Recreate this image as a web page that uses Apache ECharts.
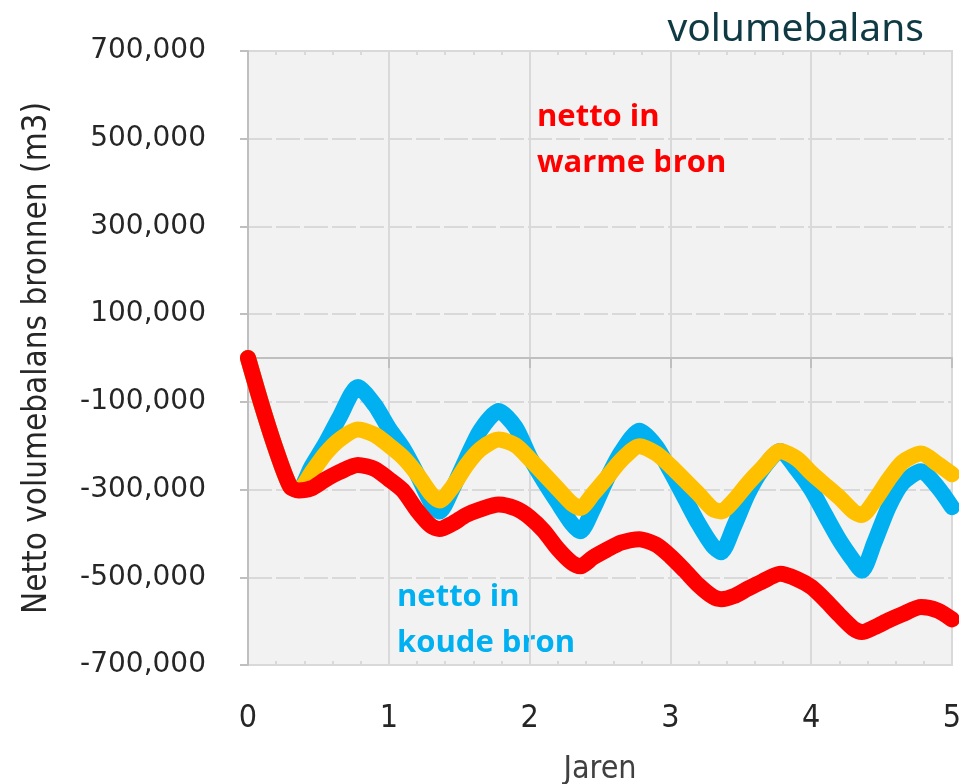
<!DOCTYPE html>
<html>
<head>
<meta charset="utf-8">
<title>volumebalans</title>
<script src="https://cdn.jsdelivr.net/npm/echarts@6/dist/echarts.min.js"></script>
<style>
  html, body { margin: 0; padding: 0; background: #ffffff; }
  #chart { width: 959px; height: 784px; }
</style>
</head>
<body>
<div id="chart"></div>
<script>
  // jaren (x) - gedeeld door de drie reeksen
  var years = [
    0, 0.1, 0.2, 0.3, 0.36, 0.45, 0.55, 0.65, 0.78, 0.9,
    1, 1.1, 1.2, 1.3, 1.36, 1.45, 1.55, 1.65, 1.78, 1.9,
    2, 2.1, 2.2, 2.3, 2.36, 2.45, 2.55, 2.65, 2.78, 2.9,
    3, 3.1, 3.2, 3.3, 3.36, 3.45, 3.55, 3.65, 3.78, 3.9,
    4, 4.1, 4.2, 4.3, 4.36, 4.45, 4.55, 4.65, 4.78, 4.9,
    5
  ];

  // netto volumebalans, x 1000 m3
  var blueValues = [
    0, -110, -210, -293, -300, -248, -195, -135, -66, -107,
    -160, -205, -264, -330, -350, -300, -230, -165, -121, -158,
    -225, -280, -330, -378, -395, -345, -275, -215, -166, -202,
    -258, -318, -378, -428, -443, -385, -310, -255, -212, -255,
    -300, -358, -415, -462, -485, -420, -340, -285, -258, -295,
    -340
  ];
  var orangeValues = [
    0, -110, -210, -293, -300, -262, -218, -186, -163, -175,
    -199, -226, -264, -310, -325, -295, -245, -208, -186, -199,
    -230, -264, -298, -332, -342, -310, -272, -233, -201, -218,
    -246, -278, -310, -344, -350, -325, -286, -252, -212, -230,
    -262, -290, -318, -350, -358, -325, -277, -237, -218, -242,
    -265
  ];
  var redValues = [
    0, -110, -210, -293, -302, -297, -277, -260, -244, -253,
    -276, -302, -347, -383, -390, -378, -358, -345, -334, -343,
    -363, -394, -435, -467, -475, -455, -437, -421, -413, -426,
    -452, -484, -518, -544, -550, -543, -526, -510, -492, -504,
    -522, -552, -586, -617, -625, -614, -598, -584, -568, -576,
    -596
  ];

  var yTicks = [-700000, -500000, -300000, -100000, 100000, 300000, 500000, 700000];

  function pairs(values) {
    return years.map(function (y, i) { return [y, values[i] * 1000]; });
  }

  function lineSeries(name, color, values, width) {
    return {
      name: name,
      type: 'line',
      xAxisIndex: 0,
      showSymbol: false,
      symbol: 'none',
      smooth: 0.25,
      lineStyle: { color: color, width: width, cap: 'round', join: 'round' },
      data: pairs(values),
      animation: false
    };
  }

  // kleine streepjes langs boven- en onderrand
  function minorAxis(pos) {
    return {
      type: 'value', min: 0, max: 5, interval: 1, position: pos,
      axisLine: { show: false, onZero: false },
      axisTick: { show: false, inside: true },
      minorTick: { show: true, splitNumber: 5, length: 4, lineStyle: { color: '#d9d9d9', width: 2 } },
      axisLabel: { show: false },
      splitLine: { show: false }
    };
  }

  var narrow = '"DejaVu Sans Condensed", "DejaVu Sans", sans-serif';

  var myChart = echarts.init(document.getElementById('chart'));
  var option = {
    backgroundColor: '#ffffff',
    animation: false,
    title: {
      text: 'volumebalans',
      right: 30,
      top: 5,
      textStyle: {
        fontFamily: '"Noto Sans", sans-serif',
        fontWeight: 'normal',
        fontSize: 39,
        color: '#0f3a44'
      }
    },
    grid: {
      left: 248,
      right: 7,
      top: 51,
      bottom: 119,
      outerBoundsMode: 'none',
      show: true,
      backgroundColor: '#f2f2f2',
      borderColor: '#d9d9d9',
      borderWidth: 2
    },
    xAxis: [{
      type: 'value',
      min: 0,
      max: 5,
      interval: 1,
      name: 'Jaren',
      nameLocation: 'middle',
      nameGap: 89,
      nameTextStyle: { fontFamily: narrow, fontSize: 32, color: '#404040' },
      axisLine: { show: false, onZero: false },
      axisTick: { show: false },
      axisLabel: { margin: 38, fontFamily: narrow, fontSize: 32, color: '#262626' },
      splitLine: { show: true, lineStyle: { color: '#d9d9d9', width: 2 } }
    }, {
      type: 'value',
      min: 0,
      max: 5,
      interval: 1,
      position: 'bottom',
      axisLine: { show: true, onZero: true, lineStyle: { color: '#bfbfbf', width: 2 } },
      axisTick: { show: true, inside: false, length: 10, lineStyle: { color: '#bfbfbf', width: 2 } },
      axisLabel: { show: false },
      splitLine: { show: false }
    }, minorAxis('top'), minorAxis('bottom')],
    yAxis: {
      type: 'value',
      min: -700000,
      max: 700000,
      interval: 200000,
      name: 'Netto volumebalans bronnen (m3)',
      nameLocation: 'middle',
      nameGap: 194,
      nameTextStyle: { fontFamily: narrow, fontSize: 33, color: '#262626' },
      axisLine: { show: true, lineStyle: { color: '#bfbfbf', width: 2 } },
      axisTick: { show: true, length: 8, lineStyle: { color: '#bfbfbf', width: 2 } },
      axisLabel: {
        margin: 42,
        fontFamily: '"DejaVu Sans", sans-serif',
        fontSize: 28,
        color: '#262626',
        formatter: function (v) {
          return yTicks.indexOf(v) >= 0 ? v.toLocaleString('en-US') : '';
        }
      },
      splitLine: { show: true, lineStyle: { color: '#d9d9d9', width: 2, type: [24, 4] } }
    },
    graphic: [{
      type: 'text',
      left: 537,
      top: 94,
      style: {
        text: 'netto in\nwarme bron',
        fill: '#ff0000',
        fontFamily: '"Open Sans", sans-serif',
        fontWeight: 'bold',
        fontSize: 31,
        lineHeight: 46
      }
    }, {
      type: 'text',
      left: 397,
      top: 574,
      style: {
        text: 'netto in\nkoude bron',
        fill: '#00b0f0',
        fontFamily: '"Open Sans", sans-serif',
        fontWeight: 'bold',
        fontSize: 31,
        lineHeight: 46
      }
    }],
    series: [
      lineSeries('netto in koude bron', '#00b0f0', blueValues, 16),
      lineSeries('gemiddeld', '#ffc000', orangeValues, 16),
      lineSeries('netto in warme bron', '#ff0000', redValues, 16)
    ]
  };

  myChart.setOption(option);
</script>
</body>
</html>
